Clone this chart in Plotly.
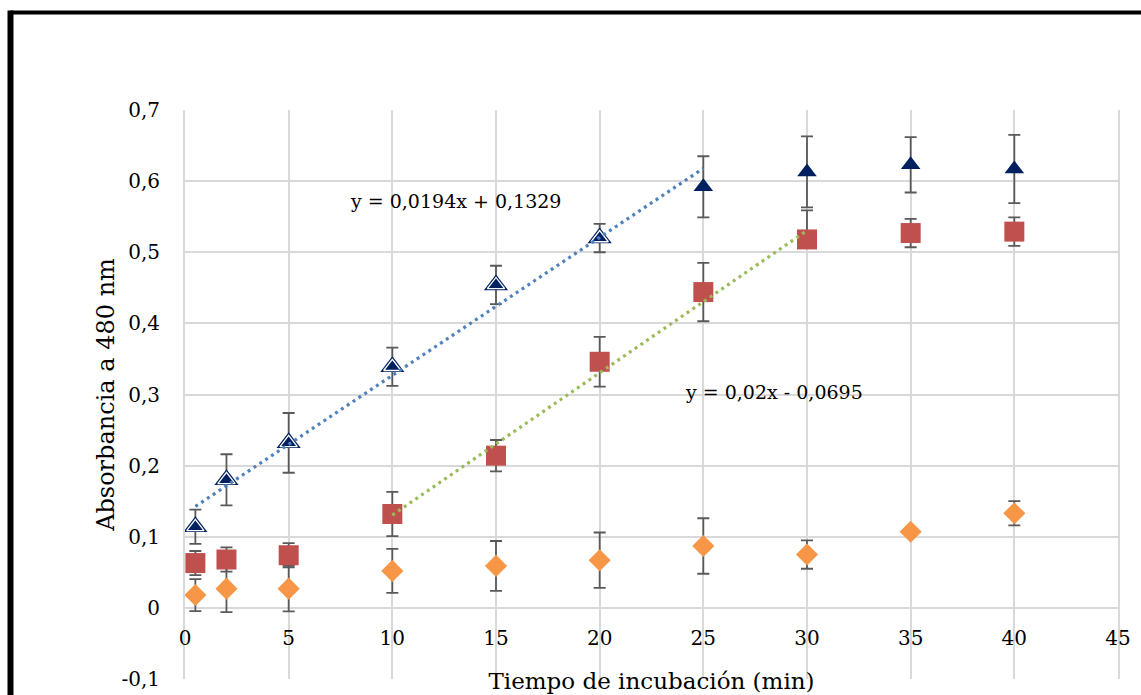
import numpy as np
import plotly.graph_objects as go

# ---- data ----
time_min = [0.5, 2, 5, 10, 15, 20, 25, 30, 35, 40]

tri_y = [0.114, 0.180, 0.232, 0.339, 0.454, 0.520, 0.592, 0.613, 0.623, 0.617]
tri_err = [0.024, 0.036, 0.042, 0.027, 0.027, 0.020, 0.043, 0.050, 0.039, 0.048]
tri_outlined = 6  # first points drawn with a white inner outline

sq_y = [0.063, 0.068, 0.074, 0.132, 0.214, 0.346, 0.444, 0.518, 0.527, 0.529]
sq_err_plus = [0.017, 0.017, 0.017, 0.031, 0.022, 0.035, 0.041, 0.041, 0.020, 0.020]
sq_err_minus = [0.017, 0.017, 0.017, 0.031, 0.022, 0.035, 0.041, 0.010, 0.020, 0.020]

dia_y = [0.018, 0.027, 0.027, 0.052, 0.059, 0.067, 0.087, 0.075, 0.107, 0.133]
dia_err = [0.0225, 0.033, 0.032, 0.031, 0.035, 0.039, 0.039, 0.020, 0.0, 0.017]

# trendlines (from the equations shown on the chart)
blue_fit = {"slope": 0.0194, "intercept": 0.1329, "x0": 0.5, "x1": 25}
green_fit = {"slope": 0.02, "intercept": -0.0695, "x0": 10, "x1": 30}
blue_label = "y = 0,0194x + 0,1329"
green_label = "y = 0,02x - 0,0695"

x_ticks = [0, 5, 10, 15, 20, 25, 30, 35, 40, 45]
y_ticks = [-0.1, 0, 0.1, 0.2, 0.3, 0.4, 0.5, 0.6, 0.7]
y_ticktext = ["-0,1", "0", "0,1", "0,2", "0,3", "0,4", "0,5", "0,6", "0,7"]

x_title = "Tiempo de incubación (min)"
y_title = "Absorbancia a 480 nm"

# ---- styles ----
FONT = "DejaVu Serif"
NAVY = "#002060"
RED = "#C0504D"
ORANGE = "#F79646"
BLUE = "#4F81BD"
GREEN = "#9BBB59"
GRID = "#D9D9D9"
ERR = "#595959"

fig = go.Figure()

def err(arr, minus=None):
    d = dict(type="data", array=arr, visible=True, color=ERR, thickness=1.8, width=6)
    if minus is not None:
        d["symmetric"] = False
        d["arrayminus"] = minus
    return d

# diamonds
fig.add_trace(go.Scatter(x=time_min, y=dia_y, mode="markers",
                         marker=dict(symbol="diamond", size=17, color=ORANGE),
                         error_y=err(dia_err)))
# squares
fig.add_trace(go.Scatter(x=time_min, y=sq_y, mode="markers",
                         marker=dict(symbol="square", size=20, color=RED),
                         error_y=err(sq_err_plus, sq_err_minus)))
# triangles
fig.add_trace(go.Scatter(x=time_min, y=tri_y, mode="markers",
                         marker=dict(symbol="triangle-up", size=17, color=NAVY),
                         error_y=err(tri_err)))
# outlined triangles (double outline look)
fig.add_trace(go.Scatter(x=time_min[:tri_outlined], y=tri_y[:tri_outlined], mode="markers",
                         marker=dict(symbol="triangle-up", size=21, color=NAVY)))
fig.add_trace(go.Scatter(x=time_min[:tri_outlined], y=tri_y[:tri_outlined], mode="markers",
                         marker=dict(symbol="triangle-up", size=15, color=NAVY,
                                     line=dict(color="white", width=1.3))))

# trendlines
for fit, col in ((blue_fit, BLUE), (green_fit, GREEN)):
    xs = np.linspace(fit["x0"], fit["x1"], 60)
    ys = fit["slope"] * xs + fit["intercept"]
    fig.add_trace(go.Scatter(x=xs, y=ys, mode="lines",
                             line=dict(color=col, width=3.2, dash="3px,4px")))

fig.add_annotation(x=7.86, y=0.572, text=blue_label, showarrow=False, xanchor="left",
                   yanchor="middle", font=dict(family=FONT, size=19, color="black"))
fig.add_annotation(x=24.0, y=0.304, text=green_label, showarrow=False, xanchor="left",
                   yanchor="middle", font=dict(family=FONT, size=19, color="black"))

ymin, ymax = y_ticks[0], y_ticks[-1]
fig.update_layout(
    width=1141, height=695,
    margin=dict(l=185, r=23, t=110, b=16, pad=0),
    paper_bgcolor="white", plot_bgcolor="white",
    showlegend=False,
    font=dict(family=FONT, color="black", size=20),
    xaxis=dict(range=[0, 45], tickvals=x_ticks, showgrid=True, gridcolor=GRID, gridwidth=1.8,
               zeroline=False, showline=False, anchor="free",
               position=(0 - ymin) / (ymax - ymin), ticks="", ticklabelstandoff=16,
               tickfont=dict(family=FONT, size=20),
               title=dict(text=x_title, font=dict(family=FONT, size=23), standoff=24),
               automargin=False),
    yaxis=dict(range=[ymin, ymax], tickvals=y_ticks, ticktext=y_ticktext, showgrid=True,
               gridcolor=GRID, gridwidth=1.8, zeroline=False, showline=True, mirror=True,
               linecolor=GRID, linewidth=1.8, ticks="", ticklabelstandoff=19,
               tickfont=dict(family=FONT, size=20),
               title=dict(text=y_title, font=dict(family=FONT, size=24), standoff=0),
               automargin=False),
)

# outer chart frame (black, partly cut off like the source picture)
fig.add_shape(type="line", xref="paper", yref="paper",
              x0=(10.5 - 185) / (1141 - 185 - 23), x1=1.2,
              y0=(695 - 16 - 12.5) / (695 - 110 - 16), y1=(695 - 16 - 12.5) / (695 - 110 - 16),
              line=dict(color="black", width=4))
fig.add_shape(type="line", xref="paper", yref="paper",
              x0=(10.5 - 185) / (1141 - 185 - 23), x1=(10.5 - 185) / (1141 - 185 - 23),
              y0=-0.2, y1=(695 - 16 - 10.5) / (695 - 110 - 16),
              line=dict(color="black", width=6))

fig.write_html("out.html")
